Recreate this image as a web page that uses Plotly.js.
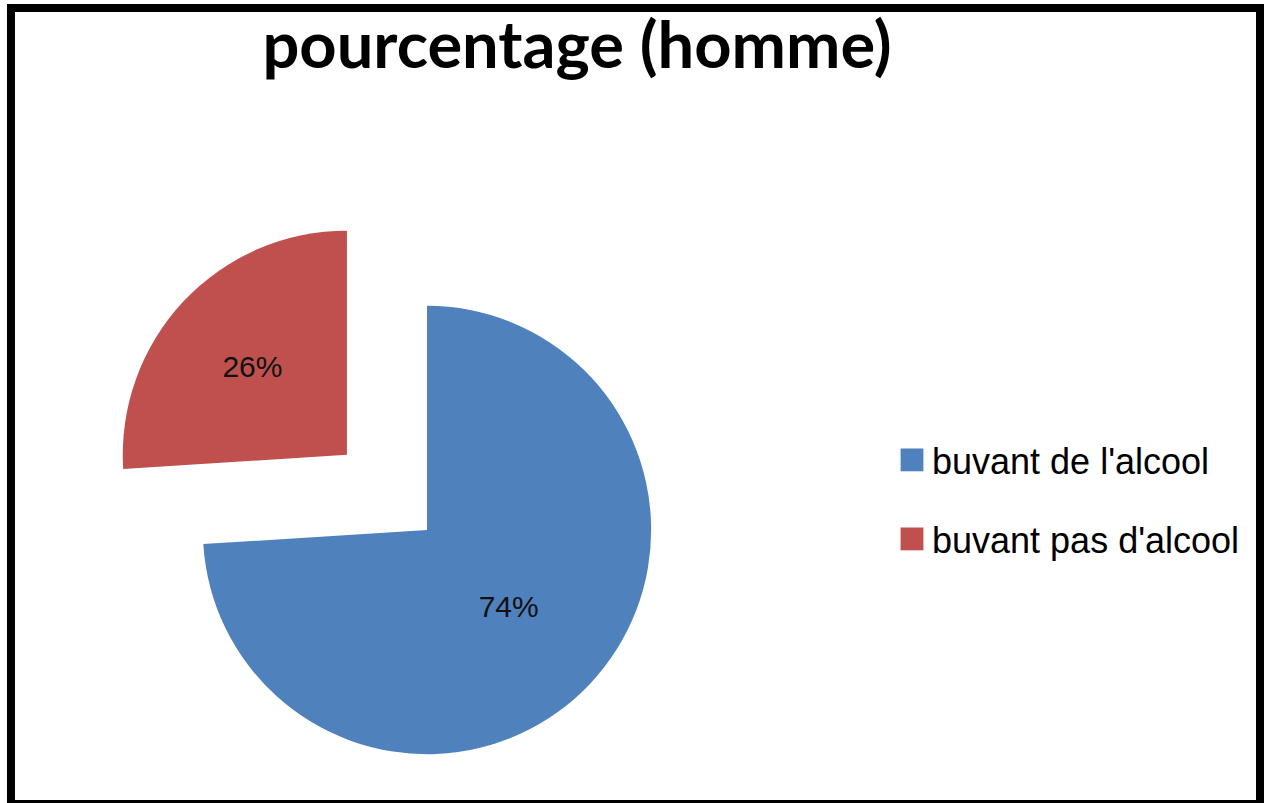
<!DOCTYPE html>
<html>
<head>
<meta charset="utf-8">
<script src="https://cdn.plot.ly/plotly-3.0.1.min.js"></script>
<style>
  html, body { margin: 0; padding: 0; overflow: hidden; background: #ffffff; }
  #wrap { position: relative; width: 1264px; height: 803px; overflow: hidden; background: #fff; }
  #chart { position: absolute; left: 0; top: 0; width: 1264px; height: 900px; }
  #frame { position: absolute; left: 7px; top: 4px; width: 1257px; height: 799px;
           box-sizing: border-box; border-left: 8px solid #000; border-top: 8px solid #000;
           border-right: 8px solid #000; border-bottom: 3px solid #000; pointer-events: none; }
</style>
</head>
<body>
<div id="wrap">
  <div id="chart"></div>
  <div id="frame"></div>
</div>
<script>
// ---- data ----
const chartTitle = "pourcentage (homme)";
const labels = ["buvant de l'alcool", "buvant pas d'alcool"];
const values = [74, 26];
const colors = ["#4F81BD", "#C0504D"];
const pulls = [0, 0.49];

const W = 1264, H = 900;

const trace = {
  type: "pie",
  labels: labels,
  values: values,
  pull: pulls,
  sort: false,
  direction: "clockwise",
  rotation: 0,
  marker: { colors: colors, line: { width: 0 } },
  textinfo: "percent",
  textposition: "inside",
  insidetextorientation: "horizontal",
  textfont: { family: "Liberation Sans, Arial, sans-serif", size: 30, color: "#111111" },
  domain: { x: [93 / W, 761 / W], y: [1 - 866 / H, 1 - 194 / H] },
  hoverinfo: "label+percent"
};

const layout = {
  width: W,
  height: H,
  margin: { l: 0, r: 0, t: 0, b: 0 },
  paper_bgcolor: "#ffffff",
  title: {
    text: "<b>" + chartTitle + "</b>",
    font: { family: "Lato, Liberation Sans, sans-serif", size: 65, color: "#000000" },
    x: 577 / W, xanchor: "center", xref: "container",
    y: 1 - 45 / H, yanchor: "middle", yref: "container"
  },
  showlegend: true,
  legend: {
    x: 892 / W, xanchor: "left",
    y: 1 - 430 / H, yanchor: "top",
    font: { family: "Liberation Sans, Arial, sans-serif", size: 36, color: "#000000" },
    bgcolor: "rgba(0,0,0,0)"
  }
};

Plotly.newPlot("chart", [trace], layout, { displayModeBar: false, staticPlot: true }).then(function () {
  // enlarge legend swatches and spread legend rows like the reference
  document.querySelectorAll(".legend [clip-path]").forEach(function (e) {
    e.removeAttribute("clip-path");
  });
  document.querySelectorAll(".legend .legendpie").forEach(function (p) {
    p.setAttribute("transform", "translate(20,0) scale(1.9)");
  });
  const items = document.querySelectorAll(".legend .traces");
  if (items.length) {
    const m = /translate\(\s*([-\d.]+)[ ,]+([-\d.]+)\s*\)/.exec(items[0].getAttribute("transform") || "");
    const x0 = m ? parseFloat(m[1]) : 0;
    const y0 = m ? parseFloat(m[2]) : 0;
    items.forEach(function (g, i) {
      g.setAttribute("transform", "translate(" + x0 + "," + (y0 + i * 79) + ")");
    });
  }
});
</script>
</body>
</html>
